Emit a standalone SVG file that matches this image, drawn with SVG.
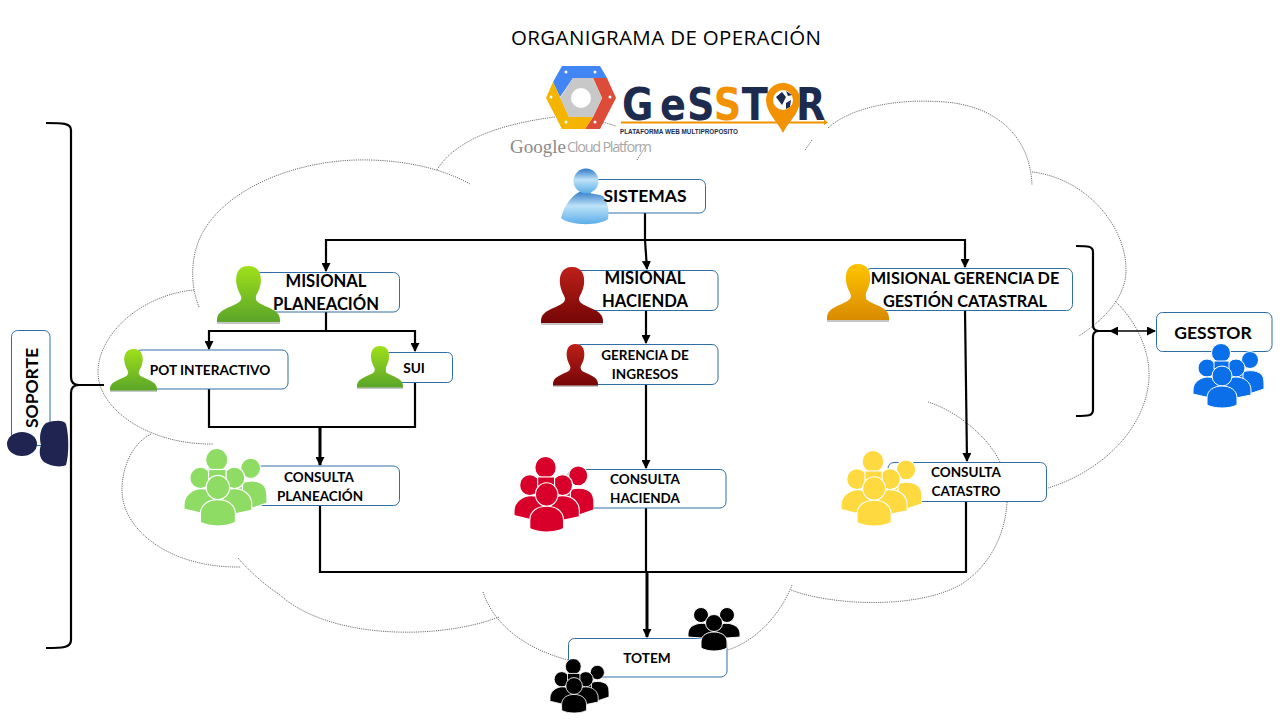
<svg xmlns="http://www.w3.org/2000/svg" width="1280" height="720" viewBox="0 0 1280 720">
<style>
text{font-family:"Lato","Open Sans",sans-serif;font-weight:700;fill:#000;text-anchor:middle}
.box{fill:#fff;stroke:#2f6ea5;stroke-width:1}
.cloud{fill:none;stroke:#707070;stroke-width:1;stroke-dasharray:1.2 1}
.c{fill:none;stroke:#000;stroke-width:2.200}
.arrow{marker-end:url(#ah)}
.t18{font-size:17.500px}.t17{font-size:16.600px}.t16{font-size:16.300px}.t14{font-size:13.700px}.t13{font-size:13.500px}
.grp{stroke:#fff;stroke-width:1}
</style>
<defs>
<marker id="ah" markerUnits="userSpaceOnUse" markerWidth="9" markerHeight="9" refX="8" refY="4.500" orient="auto"><path d="M0 0L9 4.500L0 9Z" fill="#000"/></marker>
<marker id="ahs" markerUnits="userSpaceOnUse" markerWidth="9" markerHeight="9" refX="1" refY="4.500" orient="auto"><path d="M9 0L0 4.500L9 9Z" fill="#000"/></marker>
<linearGradient id="gG" x1="0" y1="0" x2="0" y2="1"><stop offset="0" stop-color="#9fe01a"/><stop offset="1" stop-color="#5aa52a"/></linearGradient>
<linearGradient id="gR" x1="0" y1="0" x2="0" y2="1"><stop offset="0" stop-color="#bd2019"/><stop offset="1" stop-color="#740605"/></linearGradient>
<linearGradient id="gO" x1="0" y1="0" x2="0" y2="1"><stop offset="0" stop-color="#ffc400"/><stop offset="1" stop-color="#d98a00"/></linearGradient>
<linearGradient id="gB" x1="0" y1="0" x2="0" y2="1"><stop offset="0" stop-color="#2c78c8"/><stop offset=".45" stop-color="#bfe2f7"/><stop offset="1" stop-color="#5aaee8"/></linearGradient>
<symbol id="person" viewBox="0 0 62 58" preserveAspectRatio="none">
<rect x="0" y="55" width="62" height="3" fill="#999" opacity=".55"/>
<path d="M31 0C41 0 44 8 43 17C42 25 38 29 38 32C38 37 46 39 52 42C58 45 62 48 62 54L62 56L0 56L0 54C0 48 4 45 10 42C16 39 24 37 24 32C24 29 20 25 19 17C18 8 21 0 31 0Z"/>
</symbol>
<symbol id="group" viewBox="0 0 71 64" preserveAspectRatio="none">
<g class="grp">
<circle cx="57" cy="16" r="8.500"/><path d="M44 32C50 25 64 25 69 31C71 34 71 37 71 45L50 52Z"/>
<circle cx="28" cy="9" r="9.500"/>
<rect x="36" y="26" width="14" height="10"/>
<circle cx="14" cy="24" r="9"/><path d="M0 46C0 38 8 33 15 33C23 33 30 38 30 46V57L0 50Z"/>
<circle cx="43" cy="24" r="9"/><path d="M28 46C28 38 36 33 43 33C51 33 58 38 58 46V51L28 57Z"/>
<rect x="21" y="17" width="15" height="8"/>
<circle cx="29" cy="32" r="10"/><path d="M14 54C14 46 21 42 29 42C37 42 44 46 44 54V61C36 65 22 65 14 61Z"/>
</g>
</symbol>
<symbol id="group3" viewBox="0 0 52 44" preserveAspectRatio="none">
<g class="grp">
<circle cx="13" cy="8" r="7.500"/><path d="M0 26C1 15 20 13 26 22V32L0 30Z"/>
<circle cx="39" cy="8" r="7.500"/><path d="M26 22C32 13 51 15 52 26V30L26 32Z"/>
<circle cx="26" cy="16" r="8.500"/><path d="M13 34C14 22 38 22 39 34V41C32 45 20 45 13 41Z"/>
</g>
</symbol>
</defs>
<rect width="1280" height="720" fill="#fff"/>
<g id="cloud">
<path class="cloud" d="M199 307C190 285 190 255 203 232C228 187 300 158 370 160C410 161 445 170 470 184"/>
<path class="cloud" d="M437 170C455 140 500 124 555 117M603 122L616 126M637 160L645 147"/>
<path class="cloud" d="M805 150L812 140M828 128C850 108 895 98 945 102C995 106 1030 135 1032 185"/>
<path class="cloud" d="M1032 172C1085 178 1126 225 1126 270C1126 300 1100 322 1079 336"/>
<path class="cloud" d="M1115 301C1140 325 1150 355 1149 378C1146 430 1100 472 1048 488"/>
<path class="cloud" d="M928 402C960 412 990 440 1000 462M1007 502C1005 540 985 570 960 585C915 610 830 605 791 590"/>
<path class="cloud" d="M792 585C780 615 757 640 728 650"/>
<path class="cloud" d="M568 660C530 650 495 628 483 592"/>
<path class="cloud" d="M499 617C440 640 330 640 280 595C265 585 250 572 238 558"/>
<path class="cloud" d="M194 290C140 295 98 335 98 372C98 410 150 445 213 444"/>
<path class="cloud" d="M151 434C130 445 122 470 122 490C122 530 170 568 240 567"/>
</g>
<g id="logo">
<path d="M553 82L562 66H600L607 78H573L560 97Z" fill="#4285f4"/>
<path d="M607 78L616 98L600 129H585L593 117L602 98L593 78Z" fill="#dd4b39"/>
<path d="M553 82L546 98L562 129H585L593 117H569L560 97Z" fill="#f4b400"/>
<path d="M560 98L573 78H593L602 98L593 117H569Z" fill="#c8c8c8"/>
<circle cx="581" cy="98" r="10" fill="#fff"/>
<g fill="#fff"><circle cx="566" cy="72" r="1.500"/><circle cx="595" cy="72" r="1.500"/><circle cx="551" cy="97" r="1.500"/><circle cx="610" cy="97" r="1.500"/><circle cx="566" cy="122" r="1.500"/><circle cx="595" cy="122" r="1.500"/></g>
<text transform="translate(622 120) scale(.85 1)" style="text-anchor:start;font-family:'DejaVu Sans',sans-serif;font-size:45px;font-weight:700"><tspan x="0 44.700 76.500" y="0" style="fill:#1d2b4f">GeS</tspan><tspan x="108" y="0" style="fill:#f39200">S</tspan><tspan x="141 170.600 204.700" y="0" style="fill:#1d2b4f">TOR</tspan></text>
<path d="M621 121.500H824V119.500L828 122.500L824 125V123.500H621Z" fill="#f39200"/>
<path d="M783 133C778 122 766 113 766 100A17 17 0 0 1 800 100C800 113 788 122 783 133Z" fill="#f39200"/>
<circle cx="783" cy="100" r="10" fill="#fff"/>
<path d="M776 97L782 92L786 97L782 105ZM786 103L791 100L790 107L786 109ZM786 91L792 95L788 96Z" fill="#1d2b4f"/>
<text x="620" y="133.500" style="text-anchor:start;font-family:'Liberation Sans',sans-serif;font-size:6.500px;font-weight:700;fill:#1d2b4f" textLength="118" lengthAdjust="spacingAndGlyphs">PLATAFORMA WEB MULTIPROPOSITO</text>
<text x="510" y="153" style="text-anchor:start;font-family:'Liberation Serif',serif;font-size:19px;font-weight:400;fill:#8a8a8a">Google</text>
<text x="567" y="152" style="text-anchor:start;font-family:'Open Sans',sans-serif;font-size:14.500px;font-weight:400;fill:#a8a8a8" textLength="85">Cloud Platform</text>
</g>
<text id="title" x="666" y="44.500" style="font-family:'Open Sans',sans-serif;font-weight:400;font-size:20.500px" textLength="310">ORGANIGRAMA DE OPERACIÓN</text>
<g id="connectors">
<path class="c" d="M645 213V240"/>
<path class="c arrow" d="M645 240H326V271"/>
<path class="c arrow" d="M645 240L647 269"/>
<path class="c arrow" d="M645 240H965V267"/>
<path class="c" d="M326 312V331"/>
<path class="c arrow" d="M326 331H209V349"/>
<path class="c arrow" d="M326 331H415V351"/>
<path class="c arrow" d="M646 310V343"/>
<path class="c arrow" d="M646 384V468"/>
<path class="c" d="M209 389V427H415V382"/>
<path class="c arrow" style="stroke-width:3" d="M320 427V465"/>
<path class="c arrow" d="M965 310L967 461"/>
<path class="c" d="M320 505V572H966V501"/>
<path class="c" d="M646 508V572"/>
<path class="c arrow" style="stroke-width:3" d="M647 572V637"/>
<path class="c" d="M46 123C62 123 71 123 71 130V377Q71 385 79 385H104H79Q71 385 71 393V640C71 648 62 648 46 648"/>
<path class="c" d="M1076 246C1088 246 1093 246 1093 252V325Q1093 331 1099 331H1112H1099Q1093 331 1093 337V410C1093 416 1088 416 1076 416"/>
<path class="c" style="stroke-width:1.500;marker-start:url(#ahs);marker-end:url(#ah)" d="M1110 331H1155"/>
</g>
<g id="sistemas">
<rect class="box" x="590" y="179.500" width="115.500" height="33.500" rx="6"/>
<path d="M561 218C564 206 572 194 582 191C590 195 600 193 604 197C609 205 609 213 608 219C600 226 570 226 561 218Z" fill="url(#gB)"/>
<circle cx="586" cy="181" r="12.500" fill="url(#gB)"/>
<text class="t18" x="645" y="201.500">SISTEMAS</text>
</g>
<g id="planeacion">
<rect class="box" x="255" y="272.500" width="144.500" height="39.500" rx="6"/>
<use href="#person" x="217" y="266" width="63" height="58" fill="url(#gG)"/>
<text class="t17" x="326" y="287">MISIONAL</text>
<text class="t17" x="326" y="310">PLANEACIÓN</text>
</g>
<g id="pot">
<rect class="box" x="135" y="350" width="153" height="39" rx="6"/>
<use href="#person" x="110" y="349" width="47" height="43" fill="url(#gG)"/>
<text class="t14" x="210" y="375">POT INTERACTIVO</text>
</g>
<g id="sui">
<rect class="box" x="385" y="352.500" width="67.500" height="30" rx="5"/>
<use href="#person" x="357" y="346" width="46" height="43" fill="url(#gG)"/>
<text class="t14" x="414" y="373">SUI</text>
</g>
<g id="consulta-planeacion">
<rect class="box" x="241" y="466" width="158.500" height="39.500" rx="6"/>
<use href="#group" x="184" y="449" width="83" height="77" fill="#8fdc64"/>
<text class="t13" x="319" y="482">CONSULTA</text>
<text class="t13" x="320" y="501">PLANEACIÓN</text>
</g>
<g id="hacienda">
<rect class="box" x="575" y="270.500" width="143" height="40" rx="6"/>
<use href="#person" x="541" y="267" width="62" height="58" fill="url(#gR)"/>
<text class="t17" x="645" y="284">MISIONAL</text>
<text class="t17" x="645" y="307">HACIENDA</text>
</g>
<g id="ingresos">
<rect class="box" x="575" y="344.500" width="143" height="40" rx="6"/>
<use href="#person" x="553" y="344" width="45" height="43" fill="url(#gR)"/>
<text class="t13" x="645" y="360">GERENCIA DE</text>
<text class="t13" x="645" y="379">INGRESOS</text>
</g>
<g id="consulta-hacienda">
<rect class="box" x="568" y="469.500" width="158" height="38.500" rx="6"/>
<use href="#group" x="514" y="457" width="80" height="75" fill="#d8002a"/>
<text class="t13" x="645" y="484">CONSULTA</text>
<text class="t13" x="645" y="503">HACIENDA</text>
</g>
<g id="catastral">
<rect class="box" x="865" y="268.500" width="207.500" height="42" rx="6"/>
<use href="#person" x="827" y="264" width="62" height="58" fill="url(#gO)"/>
<text class="t16" x="965" y="284">MISIONAL GERENCIA DE</text>
<text class="t16" x="965" y="307">GESTIÓN CATASTRAL</text>
</g>
<g id="consulta-catastro">
<rect class="box" x="888" y="462.500" width="158.500" height="39" rx="6"/>
<use href="#group" x="841" y="451" width="81" height="75" fill="#ffd940"/>
<text class="t13" x="966" y="477">CONSULTA</text>
<text class="t13" x="966" y="496">CATASTRO</text>
</g>
<g id="gesstor">
<rect class="box" x="1156.500" y="312.500" width="115.500" height="39" rx="6"/>
<text class="t18" x="1213" y="339">GESSTOR</text>
<use href="#group" x="1193" y="344" width="71" height="64" fill="#0a6fe8"/>
</g>
<g id="totem">
<rect class="box" x="568.500" y="638.500" width="158.500" height="38.500" rx="6"/>
<use href="#group3" x="688" y="607" width="52" height="44" fill="#000"/>
<use href="#group" x="550" y="659" width="59" height="54" fill="#000"/>
<text class="t14" x="647" y="663">TOTEM</text>
</g>
<g id="soporte">
<rect class="box" x="11.500" y="330.500" width="38.500" height="115" rx="6"/>
<ellipse cx="22" cy="444" rx="15" ry="12" fill="#1f2550"/>
<path d="M46 423C55 420 64 420 66 424C69 435 69 455 66 465C60 468 50 466 44 462C39 458 39 450 41 445C39 438 40 428 46 423Z" fill="#1f2550"/>
<text class="t18" transform="translate(38 388) rotate(-90)">SOPORTE</text>
</g>
</svg>
